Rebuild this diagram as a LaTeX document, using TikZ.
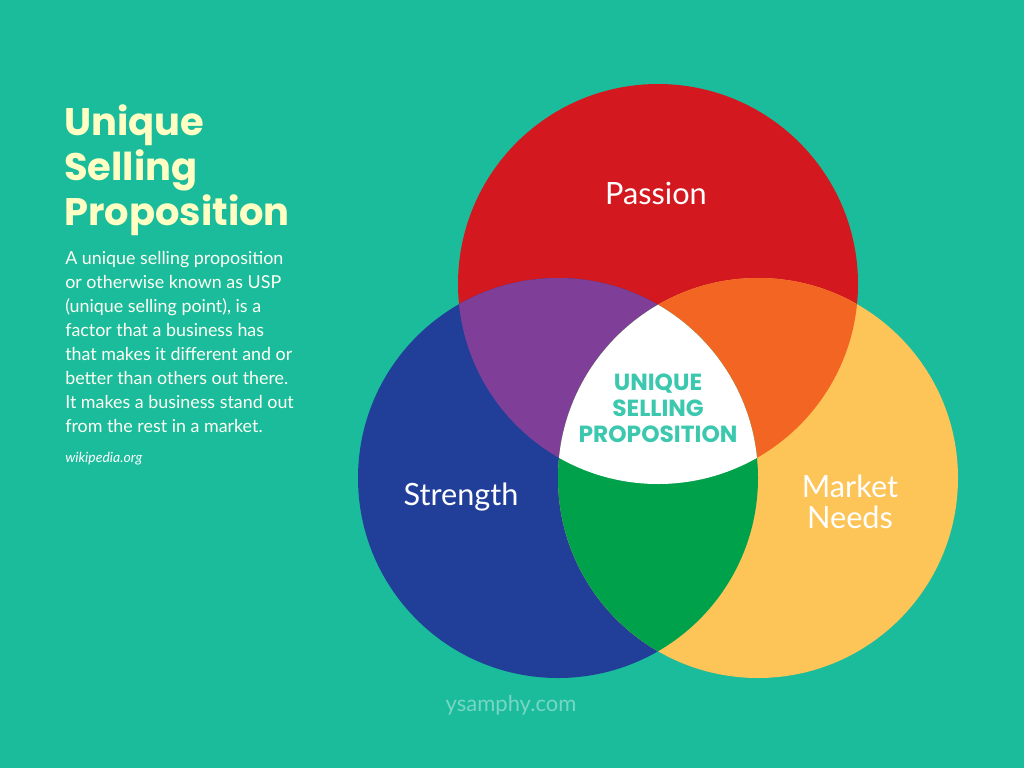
\documentclass[tikz,border=0pt]{standalone}
\usepackage{fontspec}
\setmainfont{Lato}
\newfontfamily\titlefont{Poppins}
\definecolor{bgteal}{RGB}{26,188,156}
\definecolor{passred}{RGB}{211,25,31}
\definecolor{strblue}{RGB}{33,63,153}
\definecolor{mktyellow}{RGB}{253,196,87}
\definecolor{mixpurple}{RGB}{127,63,152}
\definecolor{mixorange}{RGB}{242,101,34}
\definecolor{mixgreen}{RGB}{0,161,75}
\definecolor{titleyellow}{RGB}{255,255,196}
\definecolor{uspteal}{RGB}{60,200,174}
\definecolor{webteal}{RGB}{120,214,196}
\tikzset{
  circlabel/.style={text=white,font=\fontsize{23}{25}\selectfont,align=center},
  bodytext/.style={text=titleyellow,anchor=north west,align=left,inner sep=0pt}
}
\begin{document}
\begin{tikzpicture}[x=0.75pt,y=-0.75pt]
\fill[bgteal] (0,0) rectangle (1024,768);
\useasboundingbox (0,0) rectangle (1024,768);

%Centros de los circulos
\coordinate (passion) at (658,284);
\coordinate (strength) at (558,478);
\coordinate (market) at (758,478);
\def\rad{200}

%Circulos
\fill[passred] (passion) circle (\rad);
\fill[strblue] (strength) circle (\rad);
\fill[mktyellow] (market) circle (\rad);

%Intersecciones
\begin{scope}
  \clip (passion) circle (\rad);
  \fill[mixpurple] (strength) circle (\rad);
  \fill[mixorange] (market) circle (\rad);
\end{scope}
\begin{scope}
  \clip (strength) circle (\rad);
  \fill[mixgreen] (market) circle (\rad);
  \clip (market) circle (\rad);
  \fill[white] (passion) circle (\rad);
\end{scope}

%Textos de los circulos
\node[circlabel] (lpassion) at (656,193) {Passion};
\node[circlabel] (lstrength) at (461,497) {Strength};
\node[circlabel] (lmarket) at (850,502) {Market\\[-2pt]Needs};
\node[text=uspteal,font=\titlefont\bfseries\fontsize{17.5}{19.5}\selectfont,align=center] (usp) at (658,408) {UNIQUE\\SELLING\\PROPOSITION};

%Titulo y descripcion
\node[bodytext,text=titleyellow,font=\titlefont\bfseries\fontsize{28.8}{34}\selectfont] (title) at (64,104) {Unique\\Selling\\Proposition};
\node[bodytext,text=white!80!titleyellow,font=\fontsize{13.4}{18}\selectfont] (desc) at (65,251) {A unique selling proposition\\or otherwise known as USP\\(unique selling point), is a\\factor that a business has\\that makes it different and or\\better than others out there.\\It makes a business stand out\\from the rest in a market.};
\node[bodytext,text=white,font=\itshape\fontsize{10.5}{12}\selectfont] (source) at (65,452) {wikipedia.org};
\node[text=webteal,font=\fontsize{16.5}{18}\selectfont] (web) at (511,705) {ysamphy.com};
\end{tikzpicture}
\end{document}
